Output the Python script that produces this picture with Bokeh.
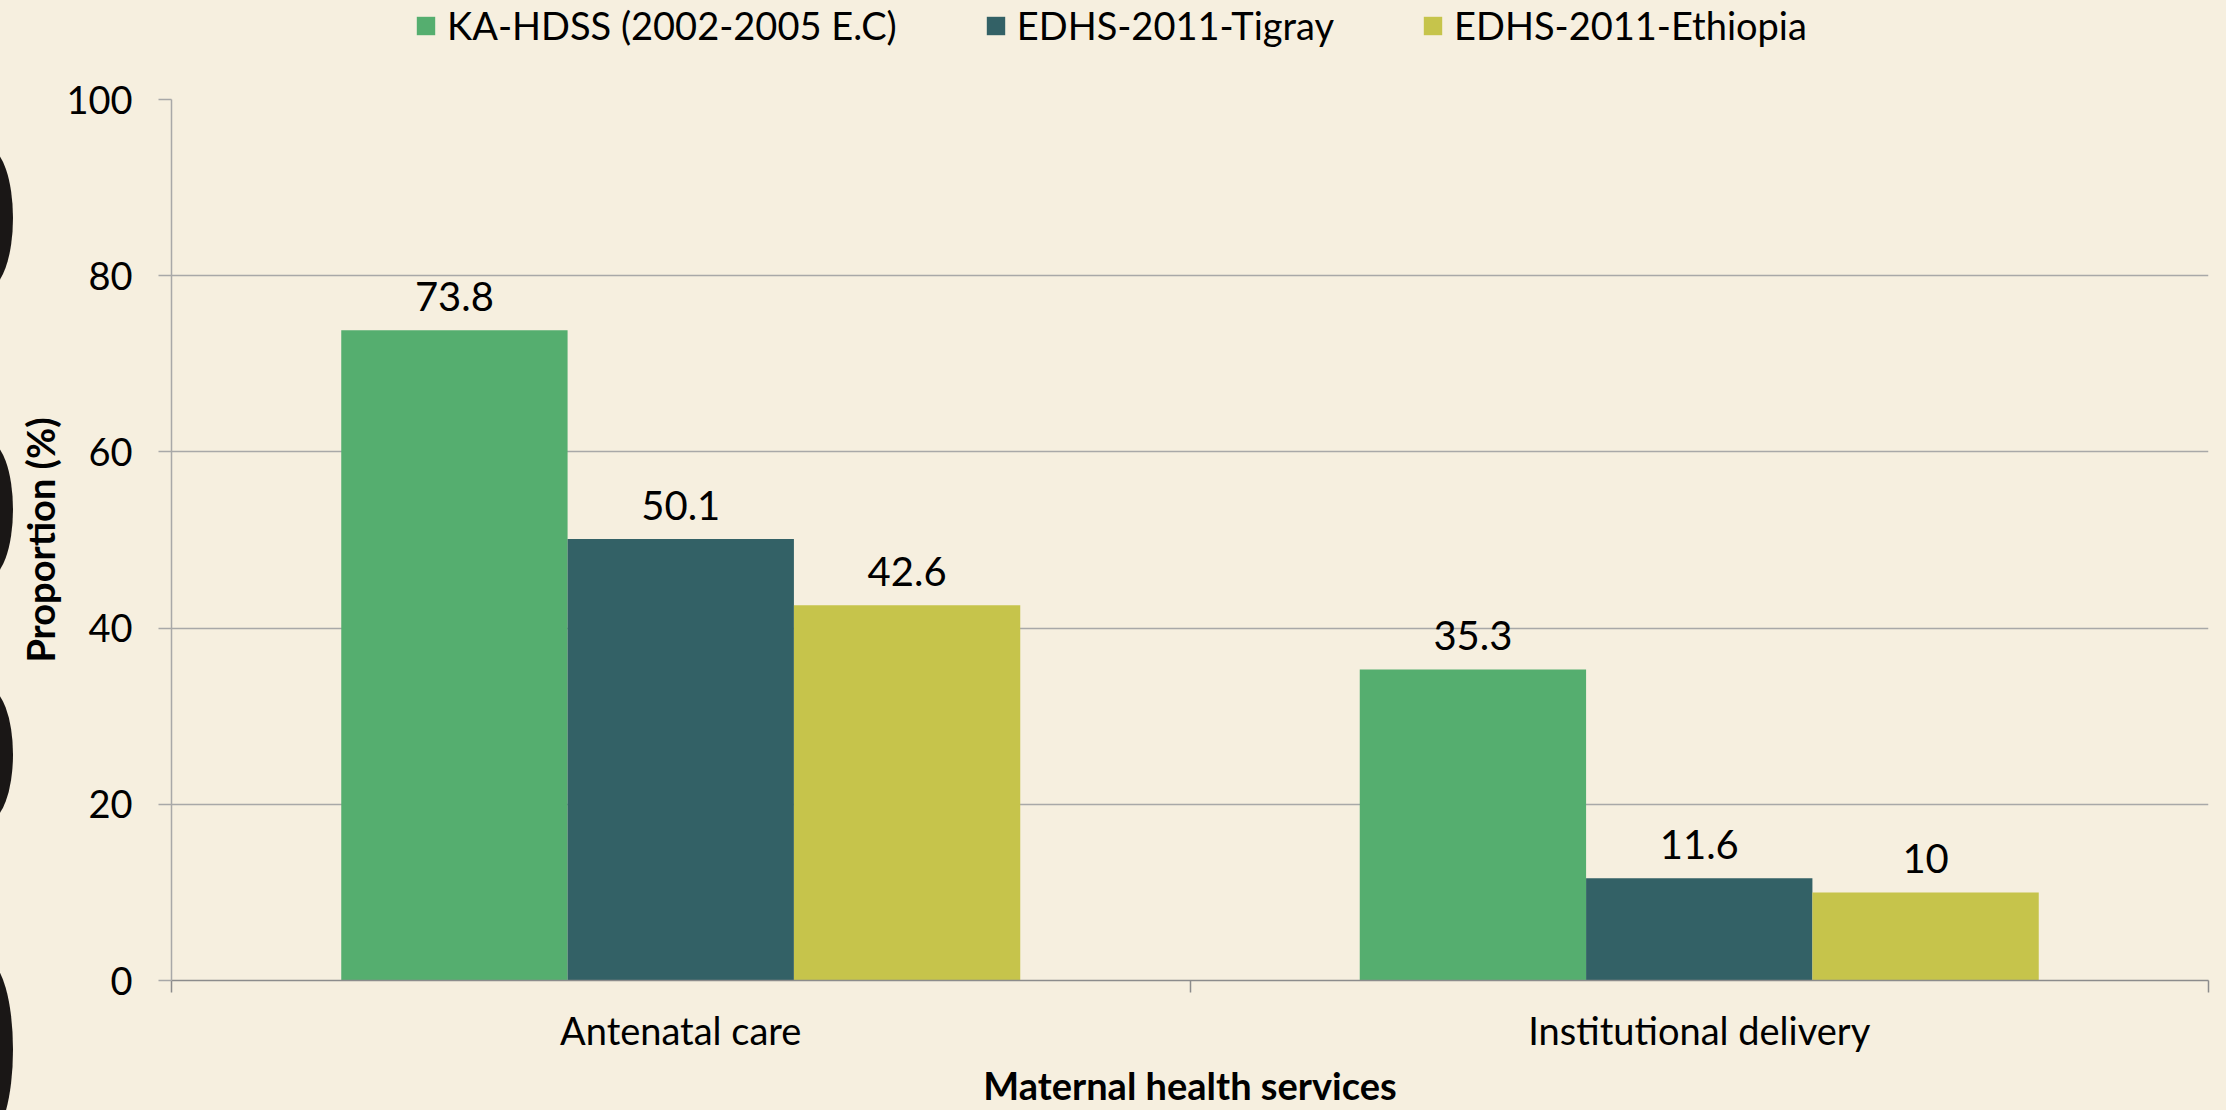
from bokeh.plotting import figure
from bokeh.models import (ColumnDataSource, FixedTicker, Legend, LegendItem, Range1d,
                          GlobalInlineStyleSheet, Div)
from bokeh.layouts import row, column
from bokeh.embed import file_html
from bokeh.resources import INLINE
from bokeh.core.properties import value

# ---- data ----
categories = ["Antenatal care", "Institutional delivery"]
series = ["KA-HDSS (2002-2005 E.C)", "EDHS-2011-Tigray", "EDHS-2011-Ethiopia"]
ka_hdss = [73.8, 35.3]
edhs_tigray = [50.1, 11.6]
edhs_ethiopia = [42.6, 10]
y_ticks = [0, 20, 40, 60, 80, 100]
x_title = "Maternal health services"
y_title = "Proportion (%)"

# ---- style ----
colors = ["#55AE6F", "#336166", "#C6C44B"]
BG = "#F6EFDF"
GRID = "#A8A8A8"
FONT = "Lato"

W_DECO = 14
W = 2226 - W_DECO
H = 1110
H_LEG = 69
H_MAIN = H - H_LEG

p = figure(width=W, height=H_MAIN,
           x_range=Range1d(0, len(categories)), y_range=Range1d(0, 100),
           output_backend="svg", toolbar_location=None,
           min_border_left=155, min_border_right=18, min_border_top=99 - H_LEG,
           min_border_bottom=129,
           background_fill_color=BG, border_fill_color=BG, outline_line_color=None)

bar_w = 2 / 9
offsets = [-bar_w, 0, bar_w]
series_values = [ka_hdss, edhs_tigray, edhs_ethiopia]
for s, vals, c, off in zip(series, series_values, colors, offsets):
    xs = [i + 0.5 + off for i in range(len(categories))]
    src = ColumnDataSource(dict(x=xs, top=vals, label=[f"{v:g}" for v in vals]))
    p.vbar(x="x", top="top", bottom=0, width=bar_w, source=src,
           fill_color=c, line_color=None)
    p.text(x="x", y="top", text="label", source=src, text_align="center",
           text_baseline="alphabetic", y_offset=-34, text_font=value(FONT),
           text_font_size="40px", text_color="black")

# grid
p.xgrid.visible = False
p.ygrid.ticker = FixedTicker(ticks=y_ticks)
p.ygrid.grid_line_color = GRID
p.ygrid.grid_line_width = 1.5

# y axis
p.yaxis.ticker = FixedTicker(ticks=y_ticks)
p.yaxis.axis_line_color = GRID
p.yaxis.axis_line_width = 1.5
p.yaxis.major_tick_line_color = GRID
p.yaxis.major_tick_line_width = 1.5
p.yaxis.major_tick_out = 13
p.yaxis.major_tick_in = 0
p.yaxis.minor_tick_line_color = None
p.yaxis.major_label_standoff = 26
p.yaxis.major_label_text_font = FONT
p.yaxis.major_label_text_font_size = "38px"
p.yaxis.major_label_text_color = "black"
p.yaxis.axis_label = y_title
p.yaxis.axis_label_text_font = FONT
p.yaxis.axis_label_text_font_style = "bold"
p.yaxis.axis_label_text_font_size = "38px"
p.yaxis.axis_label_text_color = "black"
p.yaxis.axis_label_standoff = 0

# x axis: labels at category centres, ticks at category boundaries
p.xaxis.ticker = FixedTicker(ticks=[i + 0.5 for i in range(len(categories))],
                             minor_ticks=list(range(len(categories) + 1)))
p.xaxis.major_label_overrides = {i + 0.5: c for i, c in enumerate(categories)}
p.xaxis.axis_line_color = "#8C8C8C"
p.xaxis.axis_line_width = 1.5
p.xaxis.major_tick_line_color = None
p.xaxis.major_tick_out = 0
p.xaxis.major_tick_in = 0
p.xaxis.minor_tick_line_color = "#8C8C8C"
p.xaxis.minor_tick_line_width = 1.5
p.xaxis.minor_tick_out = 12
p.xaxis.minor_tick_in = 0
p.xaxis.major_label_standoff = 14
p.xaxis.major_label_text_font = FONT
p.xaxis.major_label_text_font_size = "38px"
p.xaxis.major_label_text_color = "black"
p.xaxis.axis_label = x_title
p.xaxis.axis_label_text_font = FONT
p.xaxis.axis_label_text_font_style = "bold"
p.xaxis.axis_label_text_font_size = "38px"
p.xaxis.axis_label_text_color = "black"
p.xaxis.axis_label_standoff = 6

# legend strip above the chart (swatches come from zero-height stand-in bars)
leg_fig = figure(width=W, height=H_LEG, x_range=Range1d(0, 1), y_range=Range1d(0, 1),
                 output_backend="svg", toolbar_location=None,
                 min_border_left=155, min_border_right=18, min_border_top=0, min_border_bottom=0,
                 background_fill_color=BG, border_fill_color=BG, outline_line_color=None)
leg_fig.axis.visible = False
leg_fig.grid.visible = False
leg_renderers = [leg_fig.vbar(x=[0.5], top=[0], bottom=0, width=0.1, fill_color=c, line_color=None)
                 for c in colors]
legend = Legend(items=[LegendItem(label=s, renderers=[r]) for s, r in zip(series, leg_renderers)],
                orientation="horizontal", location=(243, 21),
                glyph_width=23, glyph_height=23, label_standoff=10, spacing=87,
                padding=2, margin=0, background_fill_alpha=0, border_line_color=None,
                label_text_font=FONT, label_text_font_size="38px", label_text_color="black")
leg_fig.add_layout(legend)

# decorative dark shapes on the left edge of the slide
shape_css = "position:absolute;left:-37px;width:50px;border-radius:50%;background:#1A1716;"
deco_html = ('<div style="position:relative;width:%dpx;height:%dpx;overflow:hidden;">' % (W_DECO, H)
             + '<div style="%stop:148px;height:140px;"></div>' % shape_css
             + '<div style="%stop:441px;height:137px;"></div>' % shape_css
             + '<div style="%stop:688px;height:133px;"></div>' % shape_css
             + '<div style="%stop:962px;height:175px;"></div>' % shape_css
             + '</div>')
deco = Div(text=deco_html, width=W_DECO, height=H, margin=0,
           styles={"overflow": "hidden", "background-color": BG})

layout = row(deco, column(leg_fig, p), stylesheets=[GlobalInlineStyleSheet(
    css="html, body {margin:0 !important; padding:0 !important; background-color:#F6EFDF; overflow:hidden;}")])

open("out.html", "w").write(file_html(layout, INLINE))
